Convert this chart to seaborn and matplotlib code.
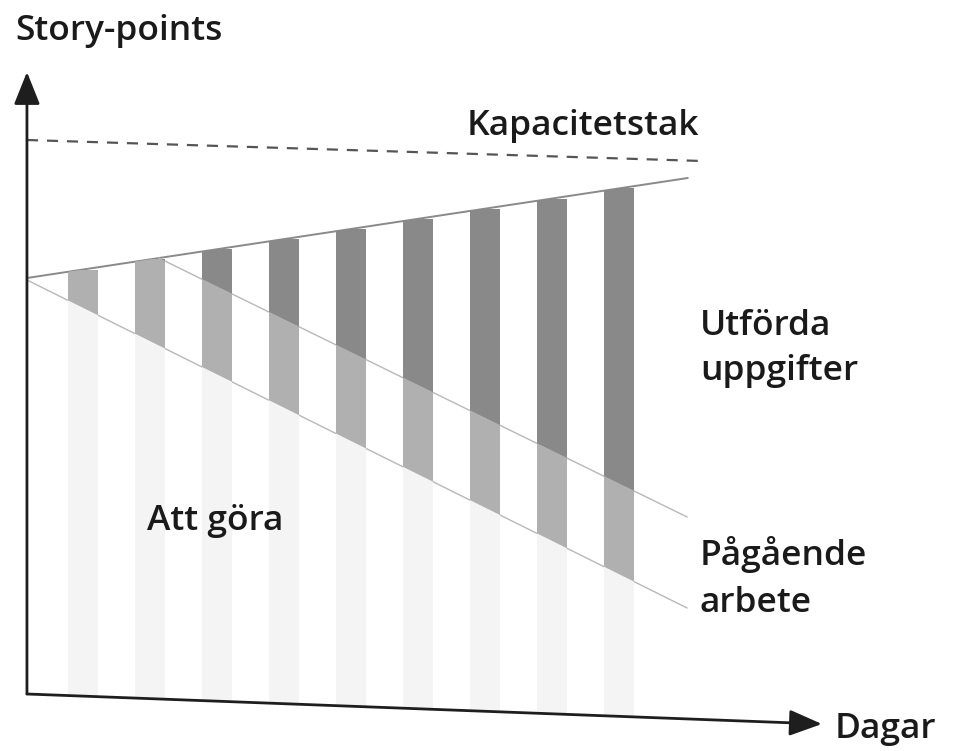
import matplotlib
matplotlib.use("Agg")
import matplotlib.pyplot as plt
from matplotlib.patches import Polygon
import seaborn as sns

# Daily snapshot bars (day number) and total story points at the top of each bar
days = [1, 2, 3, 4, 5, 6, 7, 8, 9]
total_points = [42.4, 43.5, 44.5, 45.5, 46.5, 47.5, 48.5, 49.5, 50.6]

# Straight boundary lines, given by their end points (day, story points)
top_x = [0.165, 10.02]      # total scope
top_y = [41.6, 51.6]
done_x = [2.13, 10.01]      # between done and in progress
done_y = [43.6, 17.7]
wip_x = [0.165, 10.01]      # between in progress and to do
wip_y = [41.4, 8.6]
cap_x = [0.165, 10.23]      # capacity ceiling (dashed)
cap_y = [55.4, 53.3]
axis_x = [0.165, 12.02]     # the drawn time axis is slightly skewed
axis_y = [0.0, -3.0]
y_axis_top = 62.2

sns.set_theme(style="white")
plt.rcParams['font.family'] = ['Open Sans', 'DejaVu Sans']

fig = plt.figure(figsize=(9.54, 7.51), dpi=100)
ax = fig.add_axes([0, 0, 1, 1])


def draw_layer(color, region, floor=0.0):
    sns.barplot(x=days, y=total_points, native_scale=True, width=0.45,
                color=color, saturation=1, errorbar=None, linewidth=0,
                ax=ax, zorder=3)
    clip = Polygon(region, closed=True, transform=ax.transData,
                   facecolor='none', edgecolor='none')
    for bar in ax.containers[-1]:
        h = bar.get_y() + bar.get_height()
        bar.set_y(floor)
        bar.set_height(h - floor)
        bar.set_clip_path(clip)


# regions between the lines
done_region = [(done_x[0], done_y[0]), (top_x[1], top_y[1]), (done_x[1], done_y[1])]
wip_region = [(top_x[0], top_y[0]), (done_x[0], done_y[0]), (done_x[1], done_y[1]),
              (wip_x[1], wip_y[1]), (wip_x[0], wip_y[0])]
todo_region = [(wip_x[0], wip_y[0]), (wip_x[1], wip_y[1]),
               (axis_x[1], axis_y[1]), (axis_x[0], axis_y[0])]

draw_layer('#898989', done_region)
draw_layer('#b0b0b0', wip_region)
draw_layer('#f4f4f4', todo_region, floor=min(axis_y) - 1)

# boundary lines
sns.lineplot(x=top_x, y=top_y, color='#8a8a8a', linewidth=1.4, ax=ax, zorder=2)
sns.lineplot(x=done_x, y=done_y, color='#b8b8b8', linewidth=1.0, ax=ax, zorder=2)
sns.lineplot(x=wip_x, y=wip_y, color='#b8b8b8', linewidth=1.0, ax=ax, zorder=2)
ax.plot(cap_x, cap_y, color='#555555', linewidth=1.6, dashes=(5, 4), zorder=2)

# axes drawn as arrows
arrow = dict(arrowstyle='-|>,head_length=1.0,head_width=0.4', color='#1e1e1e',
             lw=2.0, mutation_scale=20, shrinkA=0, shrinkB=0)
ax.annotate('', xy=(axis_x[0], y_axis_top), xytext=(axis_x[0], axis_y[0]),
            arrowprops=arrow, zorder=5)
ax.annotate('', xy=(axis_x[1], axis_y[1]), xytext=(axis_x[0], axis_y[0]),
            arrowprops=arrow, zorder=5)

ax.set_xlim(-0.237, 13.99)
ax.set_ylim(-5.7, 69.4)
ax.axis('off')

W, H = 954, 751
def label(txt, x, y):
    fig.text(x / W, 1 - y / H, txt, fontsize=25.5, fontweight='semibold',
             color='#1a1a1a', ha='left', va='baseline')

label('Story-points', 15, 40)
label('Kapacitetstak', 467, 135)
label('Utförda', 700, 335)
label('uppgifter', 700, 380)
label('Att göra', 147, 530)
label('Pågående', 700, 565)
label('arbete', 700, 612)
label('Dagar', 835, 738)

fig.savefig('out.png', dpi=100)
